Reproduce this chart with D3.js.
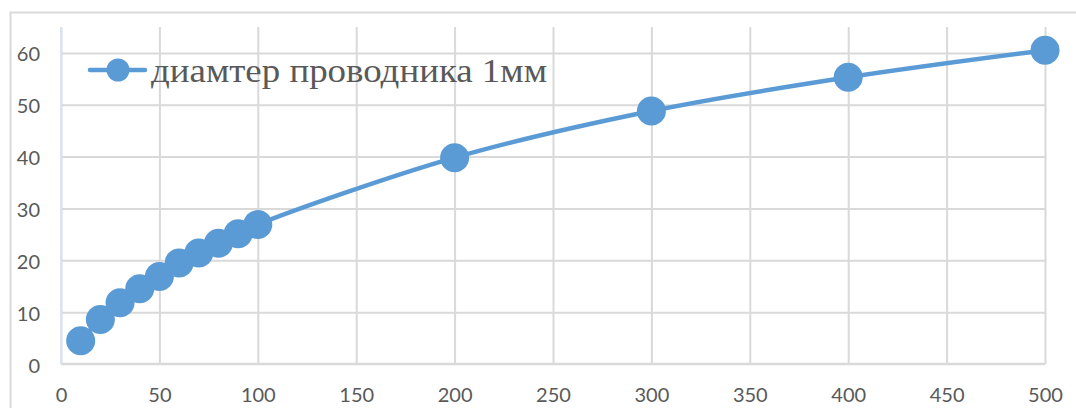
<!DOCTYPE html>
<html>
<head>
<meta charset="utf-8">
<script src="https://cdn.jsdelivr.net/npm/d3@7"></script>
<style>
  html, body { margin: 0; padding: 0; background: #ffffff; }
  svg { display: block; }
</style>
</head>
<body>
<svg id="chart" width="1076" height="408"></svg>
<script>
// Conductor length vs. measured value, conductor diameter 1 mm
const seriesName = "диамтер проводника 1мм";
const xValues = [10, 20, 30, 40, 50, 60, 70, 80, 90, 100, 200, 300, 400, 500];
const yValues = [4.5, 8.6, 11.8, 14.5, 16.9, 19.5, 21.4, 23.3, 25.1, 26.9, 39.8, 48.8, 55.3, 60.5];
const xTicks = [0, 50, 100, 150, 200, 250, 300, 350, 400, 450, 500];
const yTicks = [0, 10, 20, 30, 40, 50, 60];

const points = xValues.map((x, i) => ({ x, y: yValues[i] }));

const svg = d3.select("#chart");
const W = 1076, H = 408;
const plot = { left: 61, right: 1045, top: 27, bottom: 364 };

const x = d3.scaleLinear().domain([0, 500]).range([plot.left, plot.right]);
const y = d3.scaleLinear().domain([0, 65]).range([plot.bottom, plot.top]);

const gridColor = "#d9d9d9";
const textColor = "#595959";
const seriesColor = "#5b9bd5";

// Chart area frame
svg.append("rect")
  .attr("x", 10.5).attr("y", 12.5)
  .attr("width", W + 20).attr("height", H + 20)
  .attr("fill", "#ffffff")
  .attr("stroke", gridColor).attr("stroke-width", 2);

// Vertical gridlines
svg.append("g")
  .attr("transform", `translate(0,${plot.bottom})`)
  .call(d3.axisBottom(x).tickValues(xTicks).tickSize(-(plot.bottom - plot.top)).tickFormat(""))
  .call(g => g.select(".domain").remove())
  .call(g => g.selectAll("line").attr("stroke", gridColor).attr("stroke-width", 2));

// Horizontal gridlines
svg.append("g")
  .attr("transform", `translate(${plot.left},0)`)
  .call(d3.axisLeft(y).tickValues(yTicks.filter(t => t > 0)).tickSize(-(plot.right - plot.left)).tickFormat(""))
  .call(g => g.select(".domain").remove())
  .call(g => g.selectAll("line").attr("stroke", gridColor).attr("stroke-width", 2));

// Horizontal axis line
svg.append("line")
  .attr("x1", plot.left).attr("x2", plot.right)
  .attr("y1", y(0)).attr("y2", y(0))
  .attr("stroke", gridColor).attr("stroke-width", 2.5);

// Vertical axis line
svg.append("line")
  .attr("x1", plot.left).attr("x2", plot.left)
  .attr("y1", plot.top).attr("y2", plot.bottom)
  .attr("stroke", "#d6e5f5").attr("stroke-width", 2);

// Tick labels
const xAxis = svg.append("g")
  .attr("transform", `translate(0,${plot.bottom})`)
  .call(d3.axisBottom(x).tickValues(xTicks).tickSize(0).tickPadding(24).tickFormat(d3.format("d")));
xAxis.select(".domain").remove();
xAxis.selectAll("text")
  .attr("fill", textColor)
  .style("font-family", "Lato, 'Open Sans', sans-serif")
  .style("font-size", "20px");

const yAxis = svg.append("g")
  .attr("transform", `translate(${plot.left},0)`)
  .call(d3.axisLeft(y).tickValues(yTicks).tickSize(0).tickPadding(21).tickFormat(d3.format("d")));
yAxis.select(".domain").remove();
yAxis.selectAll("text")
  .attr("fill", textColor)
  .attr("dy", "0.4em")
  .style("font-family", "Lato, 'Open Sans', sans-serif")
  .style("font-size", "20px");

// Smoothed series line
const line = d3.line()
  .x(d => x(d.x))
  .y(d => y(d.y))
  .curve(d3.curveCatmullRom.alpha(0.5));

svg.append("path")
  .datum(points)
  .attr("fill", "none")
  .attr("stroke", seriesColor)
  .attr("stroke-width", 4.5)
  .attr("stroke-linecap", "round")
  .attr("d", line);

// Markers
svg.append("g")
  .selectAll("circle")
  .data(points)
  .join("circle")
  .attr("cx", d => x(d.x))
  .attr("cy", d => y(d.y))
  .attr("r", 14.5)
  .attr("fill", seriesColor);

// Legend
const legend = svg.append("g").attr("transform", "translate(90,70)");
legend.append("line")
  .attr("x1", 0).attr("x2", 55)
  .attr("y1", 0).attr("y2", 0)
  .attr("stroke", seriesColor).attr("stroke-width", 4.5)
  .attr("stroke-linecap", "round");
legend.append("circle")
  .attr("cx", 28).attr("cy", 0).attr("r", 11.5)
  .attr("fill", seriesColor);
legend.append("text")
  .attr("x", 61).attr("y", 12)
  .attr("fill", textColor)
  .attr("textLength", 396)
  .attr("lengthAdjust", "spacingAndGlyphs")
  .style("font-family", "'Liberation Serif', 'Times New Roman', serif")
  .style("font-size", "33px")
  .text(seriesName);
</script>
</body>
</html>
